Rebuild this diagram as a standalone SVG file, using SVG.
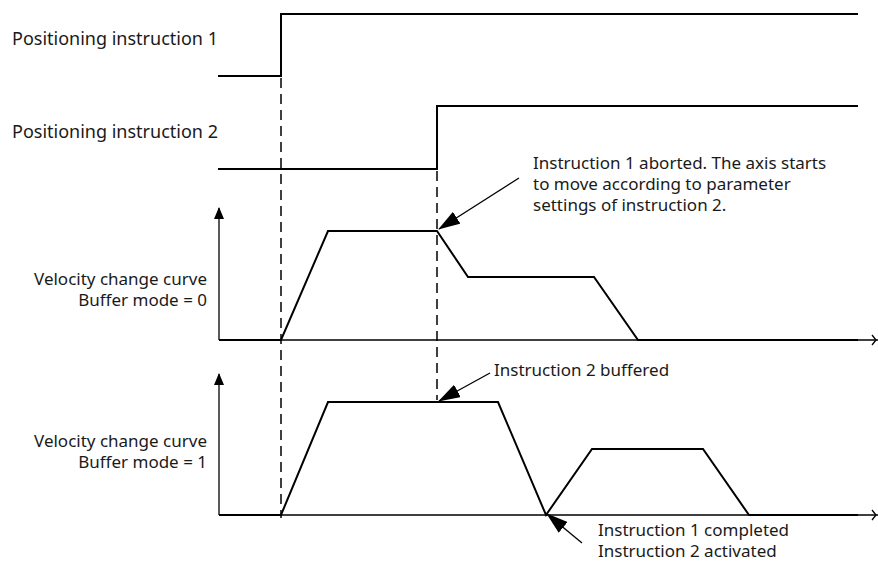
<svg xmlns="http://www.w3.org/2000/svg" width="878" height="563" viewBox="0 0 878 563">
<style>
text{font-family:"Noto Sans","Open Sans","DejaVu Sans",sans-serif;font-size:17px;fill:#1a1a1a}
.big{font-size:18px}
.sig{fill:none;stroke:#000;stroke-width:2}
.axis{fill:none;stroke:#000;stroke-width:1.3}
.dash{fill:none;stroke:#000;stroke-width:1.5;stroke-dasharray:10 6}
.ann{fill:none;stroke:#000;stroke-width:1.3}
.r{text-anchor:end}
</style>
<defs>
<marker id="ah" markerWidth="12" markerHeight="10" refX="11" refY="5" orient="auto" markerUnits="userSpaceOnUse">
<path d="M0,0 L12,5 L0,10 Z" fill="#000"/>
</marker>
<marker id="big" markerWidth="22" markerHeight="14" refX="21" refY="7" orient="auto" markerUnits="userSpaceOnUse">
<path d="M0,0 L22,7 L0,14 Z" fill="#000"/>
</marker>
</defs>
<rect width="878" height="563" fill="#fff"/>
<g id="signal1">
<path class="sig" d="M218,76 H281 V14 H858"/>
<text class="big" x="12" y="45">Positioning instruction 1</text>
</g>
<g id="signal2">
<path class="sig" d="M218,169 H437 V106 H858"/>
<text class="big" x="12" y="138">Positioning instruction 2</text>
</g>
<g id="chart0">
<path class="axis" d="M219,340 V208" marker-end="url(#ah)"/>
<path class="axis" d="M219,340 H878"/>
<path class="axis" d="M872,335 L876,340 L872,345"/>
<path class="sig" d="M219,340 H281 L328,231 H437 L468,277 H594 L638,340 H858"/>
<text class="r" x="207" y="285">Velocity change curve</text>
<text class="r" x="207" y="306">Buffer mode = 0</text>
</g>
<g id="chart1">
<path class="axis" d="M219,515 V374" marker-end="url(#ah)"/>
<path class="axis" d="M219,515 H878"/>
<path class="axis" d="M872,510 L876,515 L872,520"/>
<path class="sig" d="M219,515 H281 L328,402 H498 L546,515 L592,449 H703 L749,515 H858"/>
<text class="r" x="207" y="447">Velocity change curve</text>
<text class="r" x="207" y="468">Buffer mode = 1</text>
</g>
<g id="connectors">
<path class="dash" d="M281,78 V518"/>
<path class="dash" d="M437,171 V400"/>
<path class="ann" d="M519,178 L439,229" marker-end="url(#big)"/>
<path class="ann" d="M490,373 L439,401" marker-end="url(#big)"/>
<path class="ann" d="M582,543 L547,514" marker-end="url(#big)"/>
</g>
<g id="annotations">
<text x="533" y="169">Instruction 1 aborted. The axis starts</text>
<text x="533" y="190">to move according to parameter</text>
<text x="533" y="211">settings of instruction 2.</text>
<text x="494" y="376">Instruction 2 buffered</text>
<text x="598" y="536">Instruction 1 completed</text>
<text x="598" y="557">Instruction 2 activated</text>
</g>
</svg>
